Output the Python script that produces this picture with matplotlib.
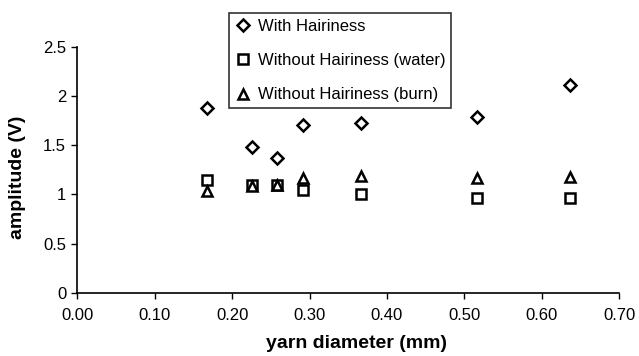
import matplotlib
matplotlib.use('Agg')
import matplotlib.pyplot as plt

plt.rcParams['font.family'] = ['Liberation Sans', 'DejaVu Sans']

# yarn diameter (mm)
diameter = [0.168, 0.226, 0.258, 0.292, 0.366, 0.516, 0.636]
# amplitude (V)
with_hair = [1.88, 1.48, 1.37, 1.70, 1.72, 1.79, 2.11]
without_water = [1.15, 1.10, 1.10, 1.05, 1.00, 0.96, 0.96]
without_burn = [1.04, 1.09, 1.10, 1.17, 1.19, 1.17, 1.18]

xticks = [0.0, 0.1, 0.2, 0.3, 0.4, 0.5, 0.6, 0.7]
yticks = [0, 0.5, 1, 1.5, 2, 2.5]
ytick_labels = ['0', '0.5', '1', '1.5', '2', '2.5']

fig = plt.figure(figsize=(6.39, 3.56), dpi=100)
ax = fig.add_axes([0.121, 0.177, 0.848, 0.692])

mk = dict(linestyle='none', markerfacecolor='white', markeredgecolor='black',
          markeredgewidth=1.8)
ax.plot(diameter, with_hair, marker='D', markersize=6, label='With Hairiness', **mk)
ax.plot(diameter, without_water, marker='s', markersize=7.5,
        label='Without Hairiness (water)', **mk)
ax.plot(diameter, without_burn, marker='^', markersize=7.5,
        label='Without Hairiness (burn)', **mk)

ax.set_xlim(0, 0.7)
ax.set_ylim(0, 2.5)
ax.set_xticks(xticks)
ax.set_xticklabels(['%.2f' % t for t in xticks])
ax.set_yticks(yticks)
ax.set_yticklabels(ytick_labels)
ax.tick_params(direction='out', length=4, width=1, labelsize=12, colors='black')
ax.tick_params(axis='x', pad=7)
ax.tick_params(axis='y', pad=4)
for s in ['top', 'right']:
    ax.spines[s].set_visible(False)
for s in ['left', 'bottom']:
    ax.spines[s].set_linewidth(1.2)

ax.set_xlabel('yarn diameter (mm)', fontsize=14, fontweight='bold', labelpad=10)
ax.set_ylabel('amplitude (V)', fontsize=14, fontweight='bold', labelpad=5)
ax.xaxis.set_label_coords(0.516, -0.17)
ax.yaxis.set_label_coords(-0.095, 0.47)

leg = fig.legend(loc='upper left', bbox_to_anchor=(0.358, 0.963), fontsize=12,
                 frameon=True, fancybox=False, handlelength=1.0, handletextpad=0.4,
                 borderpad=0.35, labelspacing=1.15, borderaxespad=0)
leg.get_frame().set_edgecolor('black')
leg.get_frame().set_linewidth(1.2)

fig.savefig('out.png', dpi=100)
